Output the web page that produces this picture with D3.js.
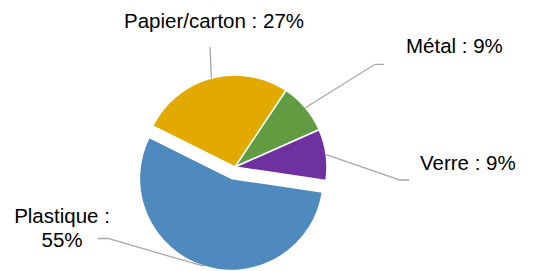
<!DOCTYPE html>
<html>
<head>
<meta charset="utf-8">
<script src="https://cdn.jsdelivr.net/npm/d3@7"></script>
<style>
    body { margin: 0; background: #fff; }
    .label { font-family: "Liberation Sans", Arial, sans-serif; font-size: 20.5px; fill: #000; }
    .leader { fill: none; stroke: #a6a6a6; stroke-width: 1.3; }
</style>
</head>
<body>
<script>
//chart data
var categories = ["Papier/carton", "Métal", "Verre", "Plastique"];
var shares = [27, 9, 9, 55];
var colors = ["#E2AA00", "#629C42", "#7031A0", "#4E8ABE"];
var exploded = "Plastique";

//label layout (text anchor, leader bend points) per category
var labelLayout = {
    "Papier/carton": {lines: ["Papier/carton : 27%"], x: 214, y: 28, anchor: "middle", bend: [[210, 47]]},
    "Métal": {lines: ["Métal : 9%"], x: 406, y: 52.7, anchor: "start", bend: [[375, 64.3], [384, 64.3]]},
    "Verre": {lines: ["Verre : 9%"], x: 420, y: 170, anchor: "start", bend: [[400, 180], [409, 180]]},
    "Plastique": {lines: ["Plastique :", "55%"], x: 62, y: 223, anchor: "middle", bend: [[108, 238.5], [98, 238.5]]}
};

var width = 533,
    height = 271,
    cx = 235,
    cy = 167,
    radius = 92,
    explodeDist = 12;

var svg = d3.select("body")
    .append("svg")
    .attr("width", width)
    .attr("height", height);

var data = categories.map(function(c, i){
    return {name: c, value: shares[i], color: colors[i]};
});

var pie = d3.pie()
    .sort(null)
    .value(function(d){ return d.value; })
    .startAngle(-63.5 * Math.PI / 180)
    .endAngle(296.5 * Math.PI / 180);

var arc = d3.arc().innerRadius(0).outerRadius(radius);
var edgeArc = d3.arc().innerRadius(radius).outerRadius(radius);

var arcs = pie(data);

//offset of a slice (only the exploded one moves)
function offset(d){
    if (d.data.name != exploded) return [0, 0];
    var a = (d.startAngle + d.endAngle) / 2;
    return [Math.sin(a) * explodeDist, -Math.cos(a) * explodeDist];
}

var g = svg.append("g")
    .attr("transform", "translate(" + cx + "," + cy + ")");

g.selectAll(".slice")
    .data(arcs)
    .enter()
    .append("path")
    .attr("class", "slice")
    .attr("transform", function(d){
        var o = offset(d);
        return "translate(" + o[0] + "," + o[1] + ")";
    })
    .attr("d", arc)
    .style("fill", function(d){ return d.data.color; })
    .style("stroke", "#fff")
    .style("stroke-width", 1.5)
    .style("stroke-linejoin", "round");

//leader lines from slice edge midpoint to labels
var line = d3.line();
svg.selectAll(".leader")
    .data(arcs)
    .enter()
    .append("path")
    .attr("class", "leader")
    .attr("d", function(d){
        var o = offset(d);
        var p = edgeArc.centroid(d);
        var pts = [[cx + p[0] + o[0], cy + p[1] + o[1]]].concat(labelLayout[d.data.name].bend);
        return line(pts);
    });

//labels
arcs.forEach(function(d){
    var lay = labelLayout[d.data.name];
    var t = svg.append("text")
        .attr("class", "label")
        .attr("text-anchor", lay.anchor);
    lay.lines.forEach(function(s, i){
        t.append("tspan")
            .attr("x", lay.x)
            .attr("y", lay.y + i * 23.7)
            .text(s);
    });
});
</script>
</body>
</html>
